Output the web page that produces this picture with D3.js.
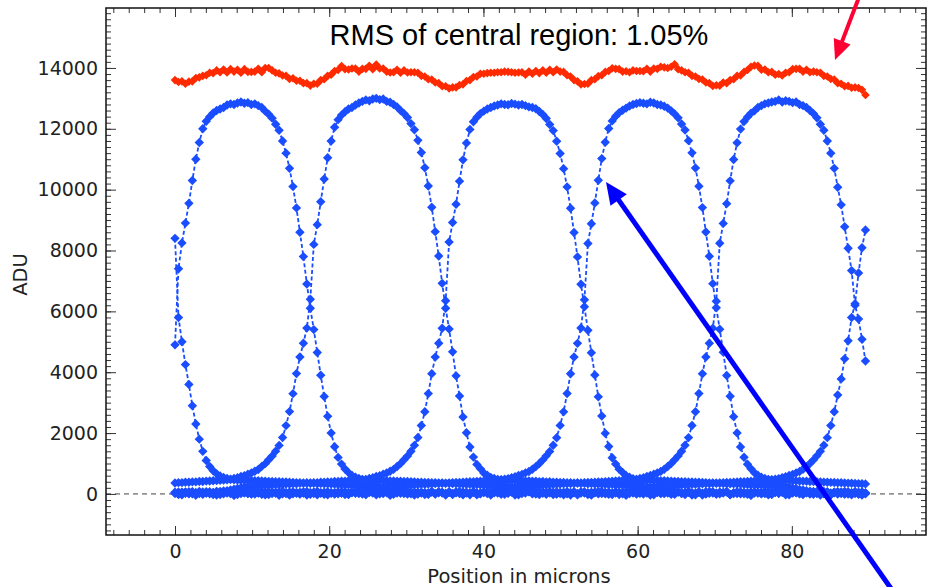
<!DOCTYPE html>
<html><head><meta charset="utf-8">
<script src="https://cdn.jsdelivr.net/npm/d3@7"></script>
<style>html,body{margin:0;padding:0;background:#fff;} svg{display:block;}</style>
</head><body>
<svg id="chart" width="930" height="587"></svg>
<script>
// ---------------- DATA ----------------
const stepMicrons = 0.45;           // scan step along the x axis
const xTickValues = [0, 20, 40, 60, 80];
const yTickValues = [0, 2000, 4000, 6000, 8000, 10000, 12000, 14000];
const titleText = "RMS of central region: 1.05%";
const xLabelText = "Position in microns";
const yLabelText = "ADU";

const pixel0 = [8400,5800,5000,4250,3600,2900,2300,1800,1400,1100,900,760,660,590,540,505,480,465,
458,447,452,444,441,433,432,424,421,413,412,403,401,394,392,383,381,372,371,363,361,352,351,343,341,333,331,322,321,312,311,302,301,292,291,283,281,272,269,258,251,236,223,198,176,148,126,103,91,76,71,
22,-8,45,30,-15,58,11,70,37,-22, 52,5,38,80,-30,46,21,63,-4,34, 67,15,-38,49,26,77,-12,40,59,8,
-25,54,31,72,3,44,-18,61,19,83, 36,-7,50,27,68,-33,41,12,75,29, -20,56,35,2,64,47,-11,24,71,39,
6,-42,53,32,79,18,-2,60,43,-26, 66,25,9,57,38,-16,74,14,48,87, -35,30,62,20,-5,51,69,33,1,45,
78,-24,42,16,58,36,-13,65,26,55, 4,73,-30,39,50,23,84,-9,47,31, 61,10,-19,54,35,76,17,-40,43,68,
28,57,-1,40,82,13,-27,52,37,64, 21];

const pixel1 = [4900,7400,8250,8900,9550,10300,11000,11550,12000,12250,12400,12520,12600,
12650,12700,12780,12820,12800,12850,12880,12840,12860,12800,12820,12760,12700,
12580,12480,12350,12150,11950,11600,11200,10700,10100,9400,8600,7800,6900,
6100,
5400,4650,3900,3200,2550,2000,1550,1200,980,820,700,610,550,505,478,462,452,455,446,449,437,438,428,427,417,418,407,408,398,397,388,387,378,377,368,367,358,357,348,347,338,337,328,327,318,317,308,307,298,297,288,287,278,276,266,261,248,239,220,201,173,151,123,106,88,79,68,
-12,35,60,8,44,-30,71,22,50,-5, 38,66,14,-40,55,29,80,3,47,18, 62,-22,40,73,11,52,-8,34,68,25,
-35,58,42,9,77,31,-15,49,64,20, 2,56,37,-25,70,15,45,83,27,-3, 53,39,61,-18,32,74,6,48,24,-45,
67,36,13,58,41,-10,79,28,51,17, -28,63,44,5,72,33,-6,57,21,46, 85,10,-20,54,38,65,1,43,26,69,
-14,50,30];

const pixel2 = [358,371,370,383,384,395,396,407,409,421,423,435,438,450,453,468,478,508,532,574,602,648,688,745,805,905,995,1125,1245,1405,1595,1855,2245,2705,3295,3955,4500,4950,5450,
6400,
8200,8850,9600,10350,11050,11600,12050,12300,12450,12560,12650,
12700,12780,12850,12900,12950,12920,12980,13000,12960,12980,12900,12870,12800,12720,
12600,12500,12370,12170,11970,11620,11220,10720,10120,9420,8620,7820,6920,
6100,
5420,4670,3880,3220,2530,2010,1540,1210,970,830,690,615,545,508,472,464,450,457,444,451,435,440,426,429,415,420,405,410,396,399,386,389,376,379,366,369,356,359,346,349,336,339,326,329,316,319,306,309,296,299,286,289,276,278,264,263,246,241,218,203,171,153,121,108,86,81,66,
40,-18,62,27,8,55,-36,73,19,46, -2,58,33,81,-24,14,49,66,4,37, -41,60,25,52,10,78,-9,43,30,64,
-27,17,57,39,86,1,48,23,-13,70, 35,12,59,-32,45,76,20,54,-4,31, 68,16,42,7];

const pixel3 = [28,-15,52,39,7,64,-28,45,18,71,33,2,
75,80,98,108,133,152,183,202,228,237,255,259,273,275,287,287,299,299,311,311,323,323,335,335,347,347,359,359,371,371,383,383,395,395,407,408,421,422,435,437,451,452,468,477,508,532,573,602,648,687,743,807,903,997,1123,1247,1403,1597,1853,2247,2703,3297,3953,4497,4953,5447,
6350,
8280,8920,9520,10280,10980,11530,11980,12230,12380,12500,12580,
12650,12700,12750,12780,12820,12800,12790,12830,12810,12780,12800,12760,12720,12700,12660,
12570,12470,12340,12140,11940,11590,11190,10690,10090,9390,8590,7790,6890,
6150,
5380,4640,3910,3190,2560,1990,1560,1190,985,815,705,605,552,502,476,458,457,448,452,443,442,433,432,423,422,413,412,403,402,393,392,383,382,373,372,363,362,353,352,343,342,333,332,323,322,313,312,303,302,293,292,283,282,273,270,258,252,236,224,198,177,148,127,103,92,76,72,
47,12,66,-20,35,58,24,-8,73,40,15,53,-33,29];

const pixel4 = [55,13,-26,68,37,4,49,80,-11,26, 61,42,-38,19,72,30,9,57,-21,46, 84,23,1,63,35,-16,51,75,14,40,
-44,59,28,67,6,48,-7,36,79,21, 53,-31,44,11,65,32,-1,58,25,70, -19,41,
70,84,93,112,128,157,178,207,223,242,250,264,268,280,282,292,294,304,306,316,318,328,330,340,342,352,354,364,366,376,378,388,390,400,402,413,416,427,430,442,446,457,463,482,503,537,568,607,643,692,738,812,898,1002,1118,1252,1398,1602,1848,2252,2698,3302,3948,4502,4948,5452,
6380,
8230,8880,9560,10310,11020,11560,12010,12260,12410,12530,12610,
12680,12750,12800,12830,12860,12840,12820,12870,12850,12800,12780,12740,12680,
12590,12490,12360,12160,11960,11610,11210,10710,10110,9410,8610,7810,6910,
6120,
5410,4660,3890,3210,2540,2005,1545,1205,975,825,695,612,548,506,474,461,453,452,448,447,438,437,429,426,419,416,409,406,399,396,389,386,379,376,369,366,359,356,349,346,339,336,329];

const pixel5 = [18,62,-7,45,30,77,-33,52,9,38, 66,-20,24,56,3,71,41,-42,59,15, 34,82,-4,48,27,63,-26,11,54,39,
74,0,43,-15,68,22,57,31,-37,50, 13,79,36,-9,61,26,47,6,70,-23, 42,55,19,85,-2,33,64,28,-30,51,
10,73,37,-12,58,21,46,81,5,-39, 60,29,44,16,69,-6,35,53,24,76, -17,49,12,65,32,-28,57,40,8,62,
73,81,96,109,131,154,181,204,226,239,253,261,271,277,285,289,297,301,309,313,321,325,333,337,345,349,357,361,369,373,381,385,393,397,405,410,419,424,433,439,449,454,466,479,506,534,571,604,646,689,741,809,901,999,1121,1249,1401,1599,1851,2249,2701,3299,3951,4499,4951,5449,
6330,
8240,8890,9540,10290,10990,11540,11990,12240,12390,12510,12590,
12700,12760,12820,12850,12880,12900,12950,12880,12920,12900,12860,12880,12800,12760,12700,
12600,12500,12360,12150,11950,11600,11200,10700,10080,9500,8780,8075,7340,
6200,
5750,5080,4370];

const pixel6 = [33,-10,58,21,70,44,-29,13,65,38, 4,52,80,-18,27,61,46,-35,17,73, 36,9,55,-3,42,78,24,-22,63,30,
50,86,12,-40,57,35,2,69,26,-14, 47,74,19,60,-31,41,8,66,29,53, -6,82,37,15,59,-25,45,71,22,1,
64,39,-43,56,31,77,11,-8,48,67, 25,54,-19,40,84,6,62,34,-36,51, 18,72,43,-1,58,28,79,-27,14,47,
61,3,36,75,-12,52,23,68,-38,44, 10,57,81,32,-5,49,20,65,39,-23, 70,16,55,0,45,76,-32,27,60,37,
-9,53,84,12,42,66,-20,30,58,24,
71,83,94,111,129,156,179,206,224,241,251,263,269,279,283,291,295,303,307,315,319,327,331,339,343,351,355,363,367,375,379,387,391,399,403,412,417,426,431,441,447,456,464,481,504,536,569,606,644,691,739,811,899,1001,1119,1251,1399,1601,1849,2251,2699,3250,3780,4440,5030,5800,
6250,
7260,8090,8676];

const totalSignal = [13600,13540,13560, 13480,13550,13560, 13670,13690,13740, 13760,13840,13830,13920,
13860,13950,13850,13960,13880, 13940,13840,13960,13870,13870, 13880,13970,13860,14000,14000,
13920,13840,13820,13750, 13740,13640,13660,13580, 13580,13500,13500,13420,13480,
13480,13600,13630,13740, 13780,13900,13930,14060, 13960,13950,13980,13980,13880,
13970,13970,14070,13960,14110, 13980,13980,13880,13850,13860, 13940,13840,13920,13850,13860,
13860,13840,13740,13720,13630, 13620,13520,13500,13400,13400, 13330,13360,13360,13440,
13460,13570,13600,13700, 13720,13810,13810,13830, 13840,13840,13860,13860,13880,
13870,13860,13840,13850,13860, 13780,13880,13810,13900,13830, 13920,13840,13940,13860,13950,
13880,13870,13760,13720, 13600,13560,13460,13470, 13480,13600,13630,13730,
13760,13870,13900,13990,13970, 13960,13880,13890,13860,13920, 13900,13900,13890,13970,13880,
13980,13970,14040,14020,14000, 14040,14120,13960,13920, 13860,13840,13740,13720,
13640,13620,13520,13500, 13410,13430,13420,13520, 13500,13600,13630,13740,
13750,13870,13930,14040, 14080,14070,13940,13950, 13860,13870,13780,13800,13750,
13840,13860,13960,13970,13970, 13880,13940,13860,13880,13860, 13840,13740,13720,13640,
13620,13500,13480,13400, 13410,13350,13360,13340, 13280,13110];

const pixelSeries = [pixel0, pixel1, pixel2, pixel3, pixel4, pixel5, pixel6];

// annotation arrows in data units: [tailX, tailY, tipX, tipY]
const redArrow = [88.9, 16450, 85.6, 14262];
const blueArrow = [93.0, -3158, 55.9, 10251];

// ---------------- LAYOUT ----------------
const plot = {left: 106, top: 8, right: 926, bottom: 535};
const blue = "#1a4dff", red = "#ff2a00";
const fontAxis = "'DejaVu Sans', sans-serif";

const svg = d3.select("#chart");
const x = d3.scaleLinear().domain([-8.95, 97.4]).range([plot.left, plot.right]);
const y = d3.scaleLinear().domain([-1350, 15970]).range([plot.bottom, plot.top]);

const toPoints = arr => arr.map((v, i) => [i * stepMicrons, v]);

// zero dashed line
svg.append("line")
  .attr("x1", plot.left).attr("x2", plot.right)
  .attr("y1", y(0)).attr("y2", y(0))
  .attr("stroke", "#444").attr("stroke-width", 1).attr("stroke-dasharray", "5,4");

const line = d3.line().x(d => x(d[0])).y(d => y(d[1]));
const diamond = r => `M0,${-r}L${r},0L0,${r}L${-r},0Z`;

const dataG = svg.append("g");
pixelSeries.forEach(arr => {
  dataG.append("path").datum(toPoints(arr))
    .attr("d", line).attr("fill", "none")
    .attr("stroke", blue).attr("stroke-width", 1.8).attr("stroke-dasharray", "4,2.5");
});
pixelSeries.forEach(arr => {
  dataG.append("g").selectAll("path").data(toPoints(arr)).join("path")
    .attr("transform", d => `translate(${x(d[0])},${y(d[1])})`)
    .attr("d", diamond(4.7)).attr("fill", blue);
});
// total
dataG.append("path").datum(toPoints(totalSignal))
  .attr("d", line).attr("fill", "none").attr("stroke", red).attr("stroke-width", 1.6);
dataG.append("g").selectAll("path").data(toPoints(totalSignal)).join("path")
  .attr("transform", d => `translate(${x(d[0])},${y(d[1])})`)
  .attr("d", diamond(4.3)).attr("fill", red);

// ---------------- AXES ----------------
const xMinor = d3.range(-8, 97, 2);
const yMinor = d3.range(-1200, 16000, 200);
function styleAxis(g) {
  g.select(".domain").remove();
  g.selectAll(".tick line").attr("stroke", "#333").attr("stroke-width", 1);
  g.selectAll("text").attr("font-family", fontAxis).attr("font-size", 19).attr("fill", "#222");
}
svg.append("g").attr("transform", `translate(0,${plot.bottom})`)
  .call(d3.axisBottom(x).tickValues(xMinor).tickSize(-5).tickFormat("")).call(styleAxis);
svg.append("g").attr("transform", `translate(0,${plot.bottom})`)
  .call(d3.axisBottom(x).tickValues(xTickValues).tickSize(-9).tickPadding(10).tickFormat(d3.format("d"))).call(styleAxis);
svg.append("g").attr("transform", `translate(0,${plot.top})`)
  .call(d3.axisTop(x).tickValues(xMinor).tickSize(-5).tickFormat("")).call(styleAxis);
svg.append("g").attr("transform", `translate(0,${plot.top})`)
  .call(d3.axisTop(x).tickValues(xTickValues).tickSize(-9).tickFormat("")).call(styleAxis);

svg.append("g").attr("transform", `translate(${plot.left},0)`)
  .call(d3.axisLeft(y).tickValues(yMinor).tickSize(-5).tickFormat("")).call(styleAxis);
svg.append("g").attr("transform", `translate(${plot.left},0)`)
  .call(d3.axisLeft(y).tickValues(yTickValues).tickSize(-10).tickPadding(8).tickFormat(d3.format("d"))).call(styleAxis);
svg.append("g").attr("transform", `translate(${plot.right},0)`)
  .call(d3.axisRight(y).tickValues(yMinor).tickSize(-5).tickFormat("")).call(styleAxis);
svg.append("g").attr("transform", `translate(${plot.right},0)`)
  .call(d3.axisRight(y).tickValues(yTickValues).tickSize(-10).tickFormat("")).call(styleAxis);

svg.append("rect")
  .attr("x", plot.left).attr("y", plot.top)
  .attr("width", plot.right - plot.left).attr("height", plot.bottom - plot.top)
  .attr("fill", "none").attr("stroke", "#111").attr("stroke-width", 1.5);

// labels
svg.append("text").attr("x", (plot.left + plot.right) / 2 + 3).attr("y", 583)
  .attr("text-anchor", "middle").attr("font-family", fontAxis).attr("font-size", 19.5).attr("fill", "#222")
  .text(xLabelText);
svg.append("text").attr("transform", `translate(27,${(plot.top + plot.bottom) / 2 + 3}) rotate(-90)`)
  .attr("text-anchor", "middle").attr("font-family", fontAxis).attr("font-size", 19.5).attr("fill", "#222")
  .text(yLabelText);
svg.append("text").attr("x", 519).attr("y", 45)
  .attr("text-anchor", "middle").attr("font-family", "'Liberation Sans', Arial, sans-serif")
  .attr("font-size", 29).attr("fill", "#000").text(titleText);

// ---------------- ARROWS ----------------
function arrow(a, color, width, headLen, headHalf) {
  const x0 = x(a[0]), y0 = y(a[1]), x1 = x(a[2]), y1 = y(a[3]);
  const dx = x1 - x0, dy = y1 - y0, L = Math.hypot(dx, dy), ux = dx / L, uy = dy / L;
  const bx = x1 - ux * headLen, by = y1 - uy * headLen;
  svg.append("line").attr("x1", x0).attr("y1", y0).attr("x2", bx + ux * 2).attr("y2", by + uy * 2)
    .attr("stroke", color).attr("stroke-width", width);
  svg.append("path")
    .attr("d", `M${x1},${y1}L${bx - uy * headHalf},${by + ux * headHalf}L${bx + uy * headHalf},${by - ux * headHalf}Z`)
    .attr("fill", color);
}
arrow(redArrow, "#ff0033", 4, 20, 9);
arrow(blueArrow, "#0000ff", 5, 22, 10);
</script>
</body></html>
